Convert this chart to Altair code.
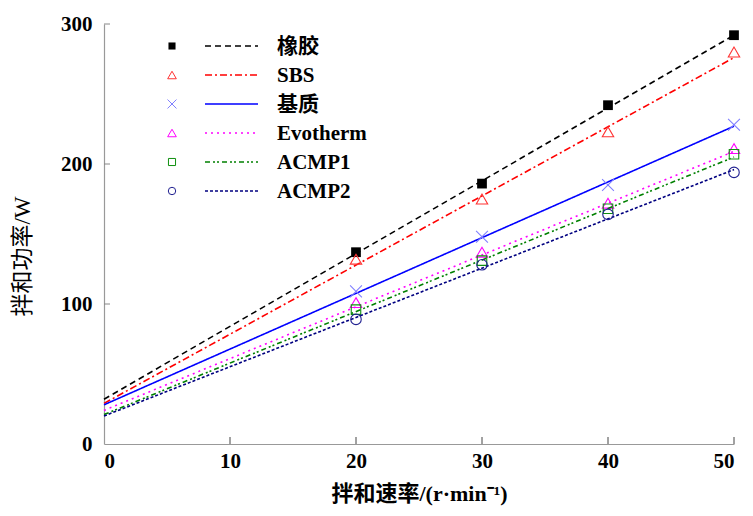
import altair as alt
import pandas as pd

# ---- data ----
names = ["橡胶", "SBS", "基质", "Evotherm", "ACMP1", "ACMP2"]
speed = [20, 30, 40, 50]
rubber = [137, 186, 242, 292]
sbs = [132, 175, 223, 280]
base = [109, 148, 185, 228]
evotherm = [101, 137, 172, 211]
acmp1 = [96, 131, 168, 207]
acmp2 = [89, 128, 164, 194]

fit_x = [0, 50]
rubber_fit = [32, 292]
sbs_fit = [29, 276]
base_fit = [28, 227]
evotherm_fit = [24, 209]
acmp1_fit = [21, 205]
acmp2_fit = [20, 196]

x_ticks = [10, 20, 30, 40, 50]
y_ticks = [100, 200, 300]

series = [rubber, sbs, base, evotherm, acmp1, acmp2]
fits = [rubber_fit, sbs_fit, base_fit, evotherm_fit, acmp1_fit, acmp2_fit]

# ---- styles ----
line_colors = ["#000000", "#ff0000", "#0000ff", "#ff00ff", "#008000", "#000080"]
mark_colors = ["#000000", "#ff3333", "#8080ff", "#ff00ff", "#109010", "#202090"]
xshape = "M-1,-1L1,1M-1,1L1,-1"
shapes = ["square", "triangle-up", xshape, "triangle-up", "square", "circle"]
filled = [True, False, False, False, False, False]
msizes = [95, 130, 140, 130, 90, 110]
lsizes = [50, 75, 80, 75, 50, 55]
dashes = [[6, 4], [7, 3, 2, 3], [1, 0], [2, 4], [5, 3, 2, 2, 2, 3], [3, 2]]

FONT = "Liberation Serif, Times New Roman, Noto Sans CJK SC"

xs = alt.Scale(domain=[0, 50], nice=False)
ys = alt.Scale(domain=[0, 300], nice=False)

layers = []

# axes layer (invisible marks, carries the axes)
axis_df = pd.DataFrame({"x": [0, 50], "y": [0, 300]})
layers.append(
    alt.Chart(axis_df).mark_point(opacity=0).encode(
        x=alt.X("x:Q", scale=xs, axis=alt.Axis(
            values=[0, 10, 20, 30, 40, 50], title="拌和速率/(r·min⁻¹)",
            titlePadding=12, titleFontSize=22)),
        y=alt.Y("y:Q", scale=ys, axis=alt.Axis(
            values=[0, 100, 200, 300], title="拌和功率/W",
            titleAngle=-90, titleX=-82, titleY=232, titleAlign="center",
            titleBaseline="middle", titleFontWeight="normal", titleFontSize=23)),
    )
)

# inward ticks
layers.append(
    alt.Chart(pd.DataFrame({"t": x_ticks})).mark_rule(color="#444", strokeWidth=1).encode(
        x=alt.X("t:Q", scale=xs), y=alt.value(420), y2=alt.value(413)
    )
)
layers.append(
    alt.Chart(pd.DataFrame({"t": y_ticks})).mark_rule(color="#888", strokeWidth=1).encode(
        y=alt.Y("t:Q", scale=ys), x=alt.value(0), x2=alt.value(6)
    )
)

for i, nm in enumerate(names):
    fdf = pd.DataFrame({"x": fit_x, "y": fits[i]})
    layers.append(
        alt.Chart(fdf).mark_line(color=line_colors[i], strokeWidth=1.6,
                                 strokeDash=dashes[i]).encode(
            x=alt.X("x:Q", scale=xs), y=alt.Y("y:Q", scale=ys)
        )
    )
    pdf = pd.DataFrame({"x": speed, "y": series[i]})
    pt = dict(shape=shapes[i], size=msizes[i], strokeWidth=1.1, opacity=1,
              filled=filled[i], color=mark_colors[i])
    layers.append(
        alt.Chart(pdf).mark_point(**pt).encode(
            x=alt.X("x:Q", scale=xs), y=alt.Y("y:Q", scale=ys)
        )
    )

# manual legend
one = pd.DataFrame({"name": [0]})
for i, nm in enumerate(names):
    yy = 22 + 29 * i
    pt = dict(shape=shapes[i], size=lsizes[i], strokeWidth=1, opacity=1,
              filled=filled[i], color=mark_colors[i])
    layers.append(alt.Chart(one).mark_point(**pt).encode(
        x=alt.value(68), y=alt.value(yy)))
    layers.append(alt.Chart(one).mark_rule(color=line_colors[i], strokeWidth=1.6,
                                           strokeDash=dashes[i]).encode(
        x=alt.value(101), x2=alt.value(154), y=alt.value(yy)))
    layers.append(alt.Chart(one).mark_text(
        text=nm, align="left", baseline="middle", font=FONT, fontSize=21,
        fontWeight="bold", color="#000").encode(
        x=alt.value(173), y=alt.value(yy + 1)))

chart = alt.layer(*layers).properties(
    width=630, height=420,
    autosize=alt.AutoSizeParams(type="none"),
    padding={"left": 96, "top": 16, "right": 11, "bottom": 62},
).configure_view(stroke=None).configure_axis(
    grid=False, ticks=False, domainColor="#999999", domainWidth=1.2,
    labelFont=FONT, labelFontSize=21, labelFontWeight="bold", labelColor="#000",
    titleFont=FONT, titleColor="#000", titleFontWeight="bold",
).configure_axisX(labelPadding=6).configure_axisY(labelPadding=12)

chart.save("out.html", embed_options={"renderer": "svg", "actions": False})
